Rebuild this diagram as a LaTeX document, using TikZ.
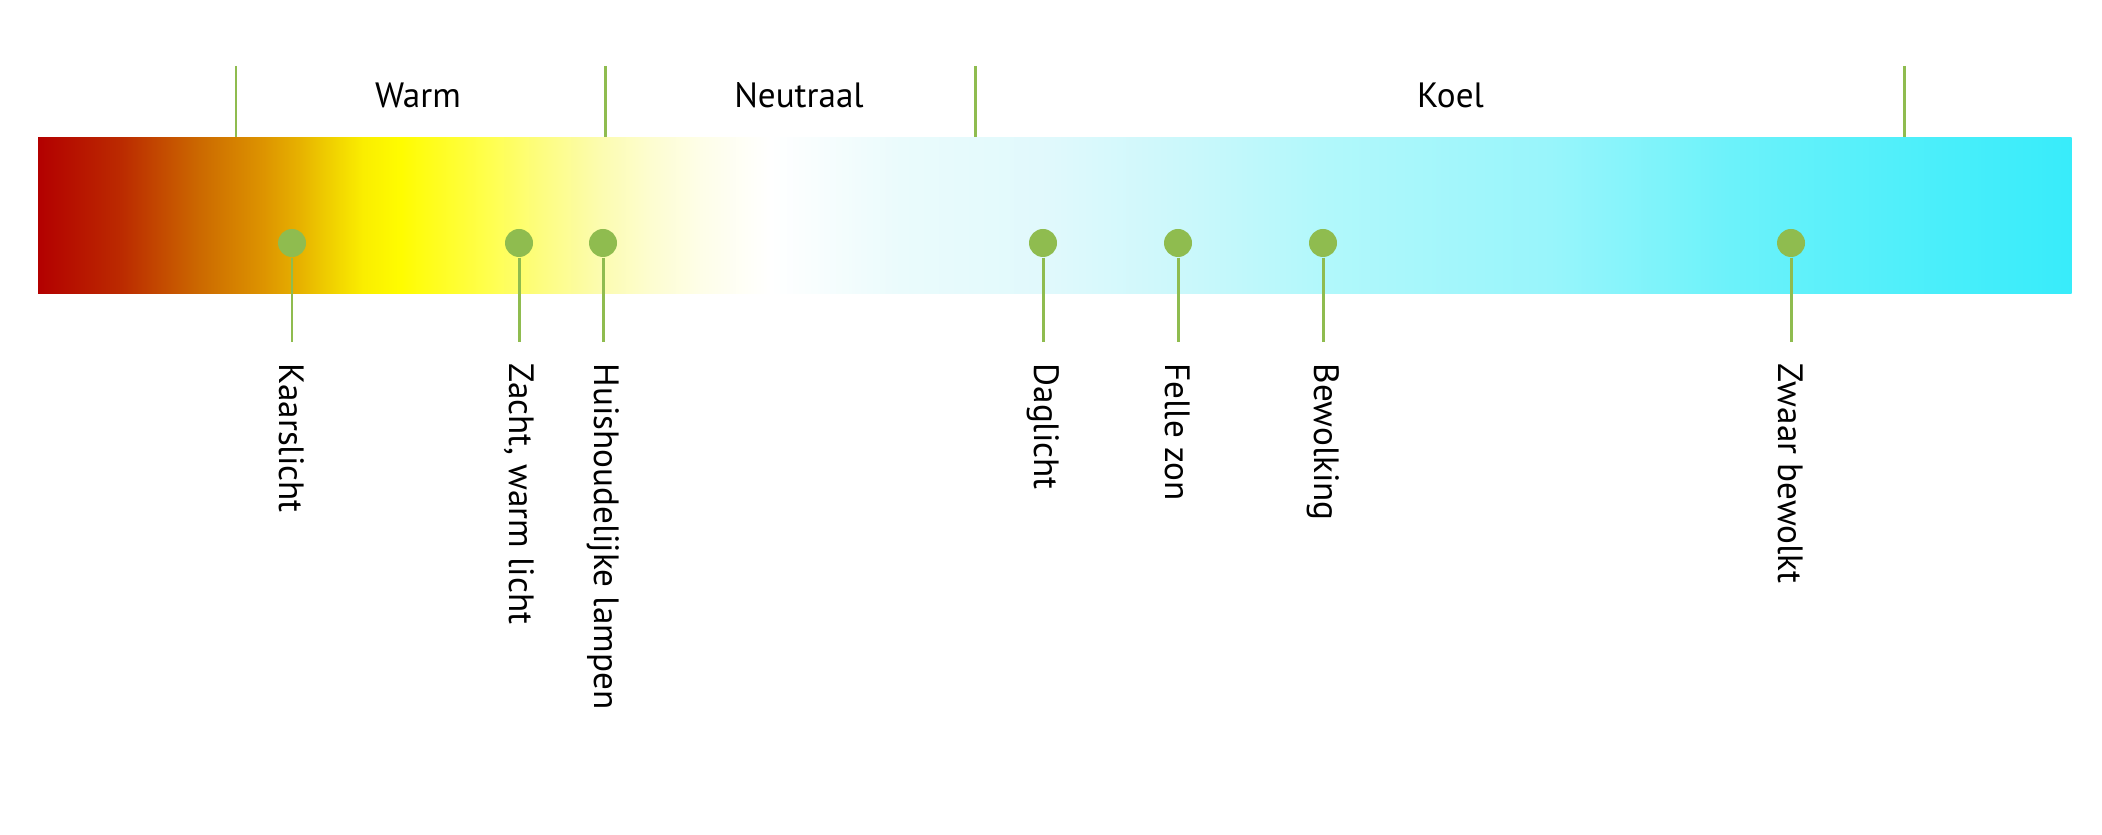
\documentclass[tikz,border=0pt]{standalone}
\usepackage{fontspec}
\setmainfont{PT Sans}
\usetikzlibrary{positioning}
\definecolor{groen}{HTML}{8FBC4F}
\definecolor{k00}{HTML}{B30000}
\definecolor{k01}{HTML}{BB2A00}
\definecolor{k02}{HTML}{CC6A00}
\definecolor{k03}{HTML}{DD9400}
\definecolor{k04}{HTML}{E6B000}
\definecolor{k05}{HTML}{F0D000}
\definecolor{k06}{HTML}{FAEE00}
\definecolor{k07}{HTML}{FFFC00}
\definecolor{k08}{HTML}{FFFF50}
\definecolor{k09}{HTML}{FDFD80}
\definecolor{k10}{HTML}{FCFCB0}
\definecolor{k11}{HTML}{FDFDD0}
\definecolor{k12}{HTML}{FEFEE8}
\definecolor{k13}{HTML}{FFFFFF}
\definecolor{k14}{HTML}{EAFBFC}
\definecolor{k15}{HTML}{E0F9FC}
\definecolor{k16}{HTML}{C8F8FB}
\definecolor{k17}{HTML}{B2F8FB}
\definecolor{k18}{HTML}{98F5FB}
\definecolor{k19}{HTML}{6CF2FA}
\definecolor{k20}{HTML}{48EEFA}
\definecolor{k21}{HTML}{38ECFA}
\pgfdeclarehorizontalshading{kelvin}{100bp}{color(0bp)=(k00); color(25bp)=(k00);
  color(27.03bp)=(k01); color(29bp)=(k02); color(30.54bp)=(k03); color(31.38bp)=(k04);
  color(32.19bp)=(k05); color(33bp)=(k06); color(33.91bp)=(k07); color(36.13bp)=(k08);
  color(37.36bp)=(k09); color(38.83bp)=(k10); color(40.06bp)=(k11); color(41.29bp)=(k12);
  color(43.01bp)=(k13); color(46.21bp)=(k14); color(49.9bp)=(k15); color(53.58bp)=(k16);
  color(56.53bp)=(k17); color(62.19bp)=(k18); color(66.61bp)=(k19); color(72.02bp)=(k20);
  color(75bp)=(k21); color(100bp)=(k21)}
\newcommand{\lblfont}{\fontsize{10pt}{12pt}\selectfont}

\begin{document}
\begin{tikzpicture}
[
scale=1.0,
bar-a/.style={shading=kelvin, inner sep=0, minimum width=203.35mm, minimum height=15.6mm},
dot-a/.style={circle, fill=groen, inner sep=0, minimum size=2.8mm},
line-a/.style={groen, line width=0.85pt},
text-a/.style={black, font=\lblfont, inner sep=0},
label-a/.style={black, font=\lblfont, inner sep=0, rotate=-90, anchor=west},
]
\useasboundingbox (0,0) rectangle (21.02,-8.35);
\node (bar) [bar-a, anchor=north west] at (0.375,-1.37) {};

% indeling
\coordinate (t1) at (2.36,-0.66);
\coordinate (t2) at (6.05,-0.66);
\coordinate (t3) at (9.75,-0.66);
\coordinate (t4) at (19.04,-0.66);
\draw [line-a] (t1) -- (t1 |- bar.north);
\draw [line-a] (t2) -- (t2 |- bar.north);
\draw [line-a] (t3) -- (t3 |- bar.north);
\draw [line-a] (t4) -- (t4 |- bar.north);
\node (warm) [text-a] at (4.18,-0.95)  {Warm};
\node (neut) [text-a] at (7.99,-0.95)  {Neutraal};
\node (koel) [text-a] at (14.505,-0.95) {Koel};

% lichtbronnen
\node (d1) [dot-a] at (2.92,-2.43)  {};
\node (d2) [dot-a] at (5.19,-2.43)  {};
\node (d3) [dot-a] at (6.03,-2.43)  {};
\node (d4) [dot-a] at (10.43,-2.43) {};
\node (d5) [dot-a] at (11.78,-2.43) {};
\node (d6) [dot-a] at (13.23,-2.43) {};
\node (d7) [dot-a] at (17.91,-2.43) {};
\coordinate (e1) at ([yshift=-9.9mm]d1.center);
\coordinate (e2) at ([yshift=-9.9mm]d2.center);
\coordinate (e3) at ([yshift=-9.9mm]d3.center);
\coordinate (e4) at ([yshift=-9.9mm]d4.center);
\coordinate (e5) at ([yshift=-9.9mm]d5.center);
\coordinate (e6) at ([yshift=-9.9mm]d6.center);
\coordinate (e7) at ([yshift=-9.9mm]d7.center);
\draw [line-a] (d1) -- (e1);
\draw [line-a] (d2) -- (e2);
\draw [line-a] (d3) -- (e3);
\draw [line-a] (d4) -- (e4);
\draw [line-a] (d5) -- (e5);
\draw [line-a] (d6) -- (e6);
\draw [line-a] (d7) -- (e7);
\node (l1) [label-a] at ([yshift=-2.1mm]e1) {Kaarslicht};
\node (l2) [label-a] at ([yshift=-2.1mm]e2) {Zacht, warm licht};
\node (l3) [label-a] at ([yshift=-2.1mm]e3) {Huishoudelijke lampen};
\node (l4) [label-a] at ([yshift=-2.1mm]e4) {Daglicht};
\node (l5) [label-a] at ([yshift=-2.1mm]e5) {Felle zon};
\node (l6) [label-a] at ([yshift=-2.1mm]e6) {Bewolking};
\node (l7) [label-a] at ([yshift=-2.1mm]e7) {Zwaar bewolkt};
\end{tikzpicture}
\end{document}
